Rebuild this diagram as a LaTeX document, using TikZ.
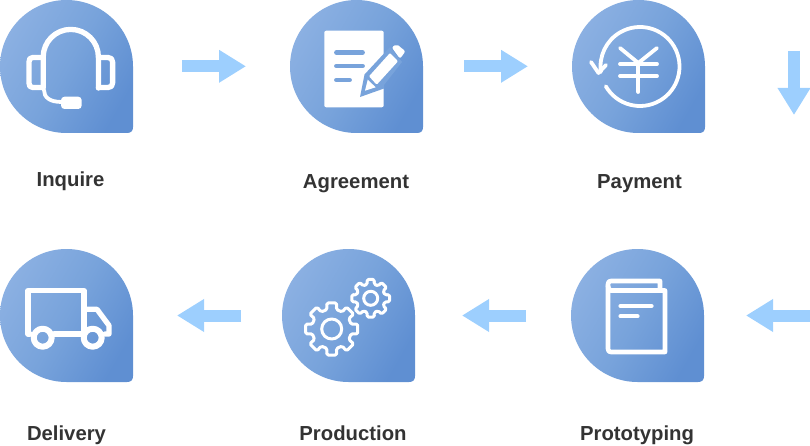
\documentclass[tikz,border=0pt]{standalone}
\usepackage{fontspec}
\setmainfont{Liberation Sans}
\usetikzlibrary{arrows.meta}
\definecolor{blobA}{HTML}{8BB0E2}
\definecolor{blobB}{HTML}{5F8FD2}
\definecolor{blobM}{HTML}{78A3DB}
\definecolor{flowc}{HTML}{9DCFFE}
\definecolor{txt}{HTML}{333333}
\tikzset{
 x=1pt,y=-1pt,
 blob/.style={shading=axis,top color=blobA,bottom color=blobB,middle color=blobM,shading angle=60,draw=none},
 lbl/.style={font=\fontsize{20.3}{24}\selectfont\bfseries,text=txt,inner sep=0pt,anchor=base},
 flow/.style={line width=12pt,draw=flowc,-{Triangle[length=27pt,width=31pt,color=flowc]}},
 ico/.style={draw=white,line width=5.3pt,fill=none,line cap=round,line join=round},
 icothin/.style={draw=white,line width=3.8pt,fill=none,line cap=round,line join=round},
 gearline/.style={draw=white,line width=3pt,fill=none,line join=round,rounded corners=1.5pt},
 solidw/.style={fill=white,draw=none},
 docline/.style={line width=4.8pt,draw=blobM,line cap=round},
}
\newcommand{\blobat}[2]{%
 \path[blob,shift={(#1,#2)}] (66.5,0) arc[start angle=-90,end angle=-270,radius=66.5]
  -- (127,133) .. controls (131,133) and (133,131) .. (133,127) -- (133,66.5)
  arc[start angle=0,end angle=-90,radius=66.5] -- cycle;}
\newcommand{\gear}[5]{%
 \draw[gearline,shift={(#1,#2)}]
  \foreach \k [evaluate=\k as \a using \k*360/#5] in {1,...,#5}{
   \ifnum\k=1 (\a-11:#3) \else -- (\a-11:#3) \fi
   -- (\a+11:#3) -- (\a+360/#5*0.30:#4) -- (\a+360/#5*0.70:#4)
  } -- cycle;}
\begin{document}
\begin{tikzpicture}
\useasboundingbox (0,0) rectangle (810,446);
\blobat{0}{0}\blobat{290}{0}\blobat{572}{0}
\blobat{0}{249}\blobat{282}{249}\blobat{571}{249}
% headset
\draw[ico] (43.2,88) -- (43.2,57) arc[start angle=180,end angle=360,radius=27.6] -- (98.4,88);
\draw[ico] (43,57.5) -- (33,57.5) .. controls (30,57.5) and (29,59) .. (29,62) -- (29,83) .. controls (29,86) and (30,87.5) .. (33,87.5) -- (43,87.5);
\draw[ico] (98.4,57.5) -- (108,57.5) .. controls (111,57.5) and (112.6,59) .. (112.6,62) -- (112.6,83) .. controls (112.6,86) and (111,87.5) .. (108,87.5) -- (98.4,87.5);
\draw[icothin] (44,90) .. controls (44,97) and (49,102) .. (62,102);
\path[solidw,rounded corners=3.5pt] (61,96.7) rectangle (81.7,109);
% agreement
\path[solidw,rounded corners=2pt] (324.3,30.7) rectangle (383.7,107.3);
\draw[docline] (336.5,52.7) -- (362.5,52.7);
\draw[docline] (336.5,66) -- (362.5,66);
\draw[docline] (336.5,80) -- (349.5,80);
\path[fill=blobM] (360,97) -- (364.5,74.5) -- (390,47) -- (402,62) -- (384,85) -- (384,88.5) -- cycle;
\path[solidw,rounded corners=1pt] (369,76.3) -- (390,53) -- (398,61.3) -- (376.7,84.7) -- cycle;
\path[solidw,rounded corners=2pt] (391.7,47.3) -- (396.7,44.2) -- (405.5,51.3) -- (400,58.7) -- cycle;
\path[solidw] (365,90.7) -- (367.7,79.7) -- (375.7,87.3) -- cycle;
% payment
\draw[icothin] (640,66.5) ++(150:39.5) arc[start angle=150,end angle=-188,radius=39.5];
\draw[icothin] (591,62) -- (598.5,73) -- (606,65);
\draw[icothin] (620,48) -- (638.3,63) -- (657,48);
\draw[icothin] (620,64) -- (657,64);
\draw[icothin] (620,76) -- (657,76);
\draw[icothin] (638.3,63) -- (638.3,92);
% truck
\draw[ico] (30,334) -- (28,334) -- (28,290.5) -- (84,290.5) -- (84,334);
\draw[ico] (54,334) -- (81,334);
\draw[ico] (84,309.3) -- (97,309.3) -- (109,325.5) -- (109,334) -- (105,334);
\draw[ico,line width=6pt] (42.7,337.7) circle[radius=9];
\draw[ico,line width=6pt] (92.7,337.7) circle[radius=9];
% gears
\gear{331.7}{329}{26.5}{20}{8}
\draw[gearline] (331.7,329) circle[radius=10];
\gear{370.7}{298.3}{19.2}{14.5}{8}
\draw[gearline] (370.7,298.3) circle[radius=7];
% prototyping
\draw[ico,line width=4.6pt] (611,290.5) .. controls (609,290.5) and (608,288) .. (608,286)
 -- (608,284) .. controls (608,282) and (609,281) .. (611,281) -- (660,281) -- (660,290);
\draw[ico,line width=4.6pt] (608,286) -- (608,349) .. controls (608,351) and (609,352) .. (611,352) -- (665,352) -- (665,290.5) -- (611,290.5);
\draw[ico,line width=4.2pt] (620.5,306) -- (651.5,306);
\draw[ico,line width=4.2pt] (620.5,316.3) -- (637.5,316.3);
% arrows
\coordinate (a1s) at (182,66.3);\coordinate (a1e) at (246,66.3);
\coordinate (a2s) at (464,66.3);\coordinate (a2e) at (528,66.3);
\coordinate (a3s) at (794,51);\coordinate (a3e) at (794,115);
\coordinate (a4s) at (810,315.5);\coordinate (a4e) at (746,315.5);
\coordinate (a5s) at (526,315.5);\coordinate (a5e) at (462,315.5);
\coordinate (a6s) at (241,315.5);\coordinate (a6e) at (177,315.5);
\draw[flow] (a1s) -- (a1e);
\draw[flow] (a2s) -- (a2e);
\draw[flow] (a3s) -- (a3e);
\draw[flow] (a4s) -- (a4e);
\draw[flow] (a5s) -- (a5e);
\draw[flow] (a6s) -- (a6e);
% labels
\node[lbl] (l1) at (70.5,186.5) {Inquire};
\node[lbl] (l2) at (356,188.5) {Agreement};
\node[lbl] (l3) at (639.5,188.5) {Payment};
\node[lbl] (l4) at (66.5,440) {Delivery};
\node[lbl] (l5) at (353,440.5) {Production};
\node[lbl] (l6) at (637,440) {Prototyping};
\end{tikzpicture}
\end{document}
